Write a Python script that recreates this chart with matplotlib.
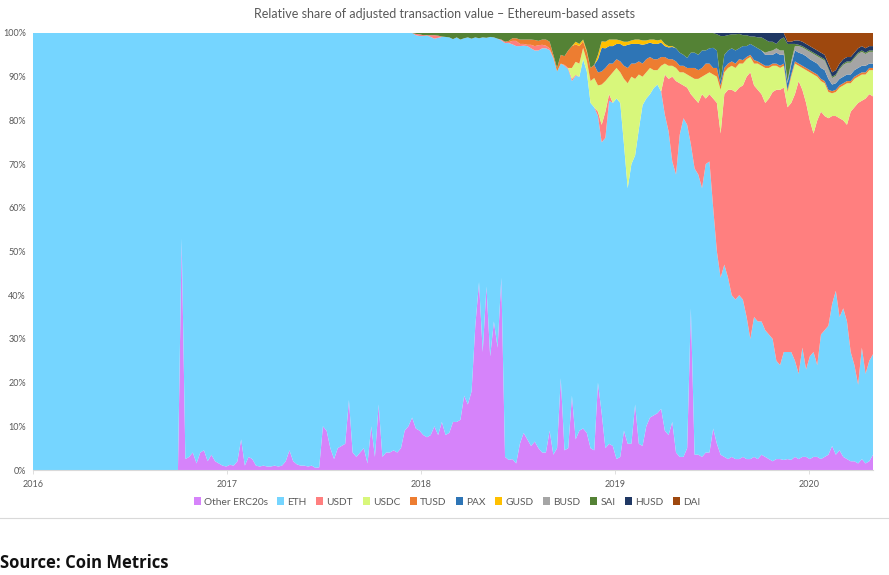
import numpy as np
import pandas as pd
import matplotlib
matplotlib.use("Agg")
import matplotlib.pyplot as plt
from matplotlib.patches import Patch

plt.rcParams['font.family'] = ['Lato', 'DejaVu Sans']

# ---------------- data (weekly samples, % share) ----------------
dates = pd.date_range("2016-01-01", periods=227, freq="7D")

labels = ["Other ERC20s", "ETH", "USDT", "USDC", "TUSD", "PAX", "GUSD",
          "BUSD", "SAI", "HUSD", "DAI"]
colors = ["#D683FA", "#75D5FF", "#FF7F7F", "#D8F77B", "#ED7D31", "#2E75B6",
          "#FFC000", "#A5A5A5", "#548235", "#203864", "#9E480E"]

other_start = "2016-09-30"
other_vals = [0, 53, 2.5, 3, 4, 1.5, 4, 4.5, 2, 3.5, 2, 1.5, 1, 0.8, 1.2, 1, 2, 7, 1,
              3, 2.5, 1, 0.8, 1, 0.8, 0.8, 1, 0.8, 1, 2, 4.5, 2, 1.3, 1, 1, 0.8, 1,
              0.5, 0.6, 10, 9, 5, 2.5, 5, 5.5, 6, 16, 4, 3, 4, 5, 1.5, 10, 3, 15, 3,
              4, 4, 4.5, 4, 5, 9, 10, 12, 9.5, 9, 8, 7.5, 8, 10, 8, 11, 8, 8.5, 11,
              11, 11.5, 17, 15, 18, 33, 43, 27, 42, 26, 34, 28, 44, 3, 2.3, 2.5, 1.5,
              6, 8.5, 7, 5.5, 6.5, 5, 4, 4, 9, 3.5, 5, 21, 4.5, 5, 17, 7, 9, 9.5,
              8.5, 5, 4.5, 20, 13, 5, 6, 5.5, 2.5, 3, 9, 6, 6, 15, 6, 5.5, 10, 12,
              12.5, 13, 14, 9, 8, 11, 4, 3, 3, 5, 37, 3.5, 3.5, 3, 4, 4, 9.5, 6,
              3.5, 3, 2.5, 3, 2.5, 2.5, 3, 2.5, 2.5, 3, 2.5, 3.5, 3, 2.5, 2, 2.5,
              2.5, 2.3, 2.5, 2.3, 3, 2.5, 3, 3, 2.5, 3, 3, 2.5, 3, 3.5, 5.5, 3.5,
              4.5, 3, 2.5, 2, 2, 1.5, 2.5, 1.5, 2, 3.5]

usdt_start = "2017-12-22"
usdt_vals = ([0.3, 0.4, 0.2, 0.1, 0.4, 0.8, 0.5, 0.1] + [0] * 15 +
             [0.2, 0.3, 0.2, 0.8, 1.2, 0.5, 0.4, 0.3, 0.8, 1.0, 1.2, 0.8, 0.6, 0.4,
              0.2, 0, 0, 0.2, 0.3, 0.5, 0.2, 0, 0, 0, 0, 0, 1, 4, 6, 1.5] + [0] * 14 +
             [9.2, 12, 19.4, 21.4, 11.8, 7.5, 8.5, 11.5, 16, 16.4, 21.5, 15, 15.4,
              25, 34, 33, 39, 43, 47, 47.5, 47.5, 49, 55, 61, 53, 53, 52, 52, 54,
              56.5, 62, 63, 60.5, 56, 57, 61, 67, 59, 61, 54, 50, 56, 51, 49, 47.5,
              43, 40, 45.5, 43, 45, 55, 59, 64.5, 56.5, 63, 61, 59])

usdc_start = "2018-10-12"
usdc_vals = [2.5, 3.0, 3.0, 2.6, 2.5, 5, 6.7, 6, 9.2, 7, 4, 7, 7, 7, 15, 24, 20,
             17.5, 12.5, 6.5, 6, 6, 4.1, 3.3, 5.9, 2.5, 3, 2.5, 3, 2.5, 3, 3, 4,
             4.5, 5.5, 4, 5.5, 5, 5.5, 6, 10, 5, 5, 5.5, 5.5, 5.5, 5, 4, 3.5, 5, 6,
             6.5, 8, 7, 6, 5.5, 5, 5, 3.5, 6, 7, 3.5, 5, 7.5, 11, 13.5, 10, 7, 7.5,
             6, 5.2, 5.5, 7, 8, 9.5, 6.5, 6.5, 6, 6, 5.5, 5.5, 6]

tusd_start = "2018-06-15"
tusd_vals = ([0.3, 0.6, 0.6, 1.0, 1.0, 1.2, 1.2, 1.4, 1.0, 1.2, 1.4, 1.5, 0.6, 0.8,
              2.0, 2.0, 4.0, 5.0, 4.0, 4.0, 1.5, 2.0, 3, 3, 3, 3, 3, 3, 2, 2, 2.5,
              3, 3.5, 3, 3.5, 3, 3, 3, 2.5, 2.5, 2.5, 2, 1.5, 1.5, 1.5, 1.5, 1.5,
              1.5, 1.5, 2, 2.5, 2, 2, 2.5, 2, 1.5, 2, 1, 1, 1, 1, 1, 1, 0.8, 0.5,
              0.5, 0.8, 0.5, 0.5] + [0.5] * 30)

pax_start = "2018-11-30"
pax_vals = [3, 5.4, 4.5, 4, 4, 3.5, 4, 4.5, 5.3, 4.5, 4.5, 4, 4.3, 3.5, 3.3, 3.5,
            3.5, 3.3, 2.5, 2.7, 2.8, 3, 3, 2.5, 2.3, 3.5, 3.5, 3.5, 4, 3, 3.5, 4.6,
            4, 1, 3, 3, 3, 3, 2.5, 3.2, 2.5, 2.5, 3.2, 3, 3, 2.5, 2.5, 2, 2.5, 2.5,
            2, 1.5, 2.2, 2.5, 2.5, 2.7, 2.7, 2.5, 2.5, 2.5, 2.5, 2.5, 2.5, 1.5, 1.5,
            1.5, 1.5, 1.5, 1.5, 1.5, 1.5, 1.5, 1.5, 1, 1]

gusd_start = "2018-10-19"
gusd_vals = [0.6, 0.5, 0.4, 0.3, 0, 0, 1, 1.5, 1.5, 1.5, 1.5, 1, 0.8, 1, 0.7, 0.8,
             1, 1, 1, 0.8, 0.7, 1, 0.8, 0.7, 0.5, 0.3, 0.2]

busd_start = "2019-10-11"
busd_vals = [0.5, 0.8, 1, 1, 1, 1, 0.5, 0.8, 1, 1.5, 1.5, 1.5, 1.7, 1.7, 1.7, 2.2,
             2.2, 2.2, 1.5, 1.7, 2.2, 2.7, 2.7, 2.7, 2.7, 3.2, 3.2, 2.7, 2.7, 2.7]

sai_start = "2017-12-22"
sai_vals = ([0.2, 0.3, 0.5, 0.5, 0.5, 0.5, 0.6, 0.8, 0.9, 1.0, 1.4, 1.0, 1.5, 1.2,
             1.0, 1.3, 1.0, 1.2, 1.0, 1.1, 0.9, 1.0, 1.3, 1.5, 2.0, 1.8, 1.2, 1.2,
             1.5, 1.5, 1.5, 1.5, 1.6, 1.8, 1.5, 1.5, 2.0, 5.0, 8.0, 5.0, 5.3, 4.0,
             3.0, 2.0, 2.5, 1.5, 4.0, 8, 7.3, 5, 1.9, 2, 1.5, 1.5, 1.5, 1.7, 2, 2,
             1.7, 1.5, 1.5, 1.7, 1.7, 1.5, 1.5, 1.7, 1.5, 2.5, 3, 3, 3.5, 4.5, 5,
             5.7, 4.5, 4.5, 5, 4, 4, 3.5, 3.4, 3.7, 10.3, 4.3, 3.5, 3.2, 3.7, 3.3,
             2.5, 2.5, 1.7, 2.2, 2.5, 3, 3, 2.2, 2, 1, 2.5, 3, 8.5, 4, 0.5] +
            [0.3] * 21)

husd_start = "2019-07-12"
husd_vals = ([0.3, 0.7, 0.7, 0.5, 0.3, 0.3, 0.2, 0.5, 0.5, 0.8, 0.8, 1, 1, 1.5, 2,
              2, 2.5, 1.5, 1, 0.5, 0.5, 0.8] + [1] * 21)

dai_start = "2019-11-22"
dai_vals = [2, 2, 1.7, 1.7, 2, 2.5, 3, 3.5, 4, 4.5, 5, 7, 9, 8.5, 7, 6, 5.5, 5.5,
            4.5, 3.5, 3, 3.5, 3, 3]

year_ticks = ["2016-01-01", "2017-01-01", "2018-01-01", "2019-01-01", "2020-01-01"]
year_labels = ["2016", "2017", "2018", "2019", "2020"]
pct_ticks = list(range(0, 101, 10))


def series(start, values):
    out = np.zeros(len(dates))
    i0 = dates.searchsorted(pd.Timestamp(start))
    out[i0:i0 + len(values)] = values
    return out


other = series(other_start, other_vals)
usdt = series(usdt_start, usdt_vals)
usdc = series(usdc_start, usdc_vals)
tusd = series(tusd_start, tusd_vals)
pax = series(pax_start, pax_vals)
gusd = series(gusd_start, gusd_vals)
busd = series(busd_start, busd_vals)
sai = series(sai_start, sai_vals)
husd = series(husd_start, husd_vals)
dai = series(dai_start, dai_vals)
# ETH is the remaining share of the 100% total
eth = 100 - (other + usdt + usdc + tusd + pax + gusd + busd + sai + husd + dai)

stack = [other, eth, usdt, usdc, tusd, pax, gusd, busd, sai, husd, dai]

# ---------------- figure ----------------
W, H = 889, 575
fig = plt.figure(figsize=(W / 100, H / 100), dpi=100)
ax = fig.add_axes([33 / W, 1 - 470 / H, 840 / W, 437 / H])

ax.stackplot(dates, stack, colors=colors, labels=labels, linewidth=0)

ax.set_xlim(pd.Timestamp("2016-01-01"), dates[-1])
ax.set_ylim(0, 100)

ax.set_yticks(pct_ticks)
ax.set_yticklabels([f"{v}%" for v in pct_ticks])
ax.set_xticks([pd.Timestamp(d) for d in year_ticks])
ax.set_xticklabels(year_labels)

ax.tick_params(axis="y", length=0, pad=5, labelsize=6.5, labelcolor="#595959")
ax.tick_params(axis="x", length=3, width=0.6, color="#D9D9D9", pad=4,
               labelsize=6.5, labelcolor="#595959")
for s in ["top", "right", "left"]:
    ax.spines[s].set_visible(False)
ax.spines["bottom"].set_color("#D9D9D9")
ax.spines["bottom"].set_linewidth(0.8)

fig.text(445 / W, 1 - 14 / H, "Relative share of adjusted transaction value \u2013 Ethereum-based assets",
         ha="center", va="center", fontsize=9, color="#595959")

handles = [Patch(facecolor=c, edgecolor="none") for c in colors]
fig.legend(handles, labels, loc="center", bbox_to_anchor=(447 / W, 1 - 502 / H),
           ncol=11, frameon=False, fontsize=7.3, labelcolor="#595959",
           handlelength=0.7, handleheight=0.7, handletextpad=0.3,
           columnspacing=0.95)

fig.add_artist(plt.Line2D([0, 1], [1 - 518 / H, 1 - 518 / H], transform=fig.transFigure,
                          color="#D9D9D9", linewidth=0.8))

fig.text(0 / W, 1 - 563 / H, "Source: Coin Metrics", ha="left", va="center",
         fontsize=12, fontweight="bold", color="#111111",
         family=["Open Sans", "DejaVu Sans"])

fig.savefig("out.png", dpi=100)
